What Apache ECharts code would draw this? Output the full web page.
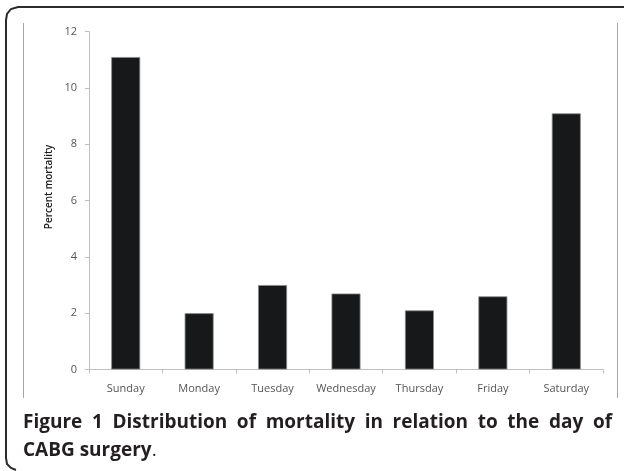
<!DOCTYPE html>
<html>
<head>
<meta charset="utf-8">
<script src="https://cdn.jsdelivr.net/npm/echarts@6/dist/echarts.min.js"></script>
<style>
  html, body { margin: 0; padding: 0; background: #fff; }
  #main { width: 624px; height: 471px; }
</style>
</head>
<body>
<div id="main"></div>
<script>
// data
var days = ['Sunday', 'Monday', 'Tuesday', 'Wednesday', 'Thursday', 'Friday', 'Saturday'];
var mortality = [11.1, 2.0, 3.0, 2.7, 2.1, 2.6, 9.1];
var yTicks = [0, 2, 4, 6, 8, 10, 12];
var yName = 'Percent mortality';
var captionLines = [
  ['Figure', '1', 'Distribution', 'of', 'mortality', 'in', 'relation', 'to', 'the', 'day', 'of'],
  ['CABG', 'surgery']
];

var chart = echarts.init(document.getElementById('main'), null, { renderer: 'canvas' });

var capFont = 'bold 19px "Open Sans"';
var capColor = '#231f20';

// justified caption, word by word
var ctx = document.createElement('canvas').getContext('2d');
ctx.font = capFont;
var capLeft = 23, capRight = 612;
var capTops = [413, 441];
var captionEls = [];
captionLines.forEach(function (words, li) {
  var widths = words.map(function (w) { return ctx.measureText(w).width; });
  var total = widths.reduce(function (a, b) { return a + b; }, 0);
  var gap = li === 0 ? (capRight - capLeft - total) / (words.length - 1) : ctx.measureText(' ').width;
  var x = capLeft;
  words.forEach(function (w, i) {
    captionEls.push({
      type: 'text', left: x, top: capTops[li],
      style: { text: w, font: capFont, fill: capColor }
    });
    x += widths[i] + gap;
  });
  if (li === 1) {
    captionEls.push({
      type: 'text', left: x - gap, top: capTops[li],
      style: { text: '.', font: '19px "Open Sans"', fill: capColor }
    });
  }
});

var option = {
  backgroundColor: '#fff',
  animation: false,
  grid: { left: 89, right: 21, top: 31.7, bottom: 101.5 },
  xAxis: {
    type: 'category',
    data: days,
    axisLine: { lineStyle: { color: '#bfbfbf', width: 1 } },
    axisTick: { show: true, length: 4, lineStyle: { color: '#bfbfbf' } },
    axisLabel: { color: '#555', fontFamily: 'Open Sans', fontSize: 11, margin: 14, interval: 0, hideOverlap: false }
  },
  yAxis: {
    type: 'value',
    min: yTicks[0],
    max: yTicks[yTicks.length - 1],
    interval: 2,
    axisLine: { show: true, lineStyle: { color: '#bfbfbf', width: 1 } },
    axisTick: { show: true, length: 4, lineStyle: { color: '#bfbfbf' } },
    splitLine: { show: false },
    axisLabel: { color: '#555', fontFamily: 'Open Sans', fontSize: 11, margin: 12 }
  },
  series: [{
    type: 'bar',
    data: mortality,
    barWidth: 29,
    itemStyle: { color: '#17181a', borderColor: '#8c8c8c', borderWidth: 0.8 }
  }],
  graphic: [
    // outer frame: top line and rounded left side
    {
      type: 'polyline',
      shape: { points: [[624, 7], [18, 7], [11, 9], [7, 14], [6, 20], [6, 458], [7, 464], [11, 468], [16, 470]] },
      style: { stroke: '#2b2b2b', lineWidth: 2, fill: null }
    },
    { type: 'line', shape: { x1: 23.5, y1: 23, x2: 23.5, y2: 398 }, style: { stroke: '#a6a6a6', lineWidth: 1 } },
    { type: 'line', shape: { x1: 617.5, y1: 23, x2: 617.5, y2: 398 }, style: { stroke: '#a6a6a6', lineWidth: 1 } },
    {
      type: 'text', x: 49, y: 187, rotation: Math.PI / 2,
      style: {
        text: yName, font: '600 10px "Open Sans"', fill: '#1a1a1a',
        textAlign: 'center', textVerticalAlign: 'middle'
      }
    }
  ].concat(captionEls)
};

chart.setOption(option);
</script>
</body>
</html>
